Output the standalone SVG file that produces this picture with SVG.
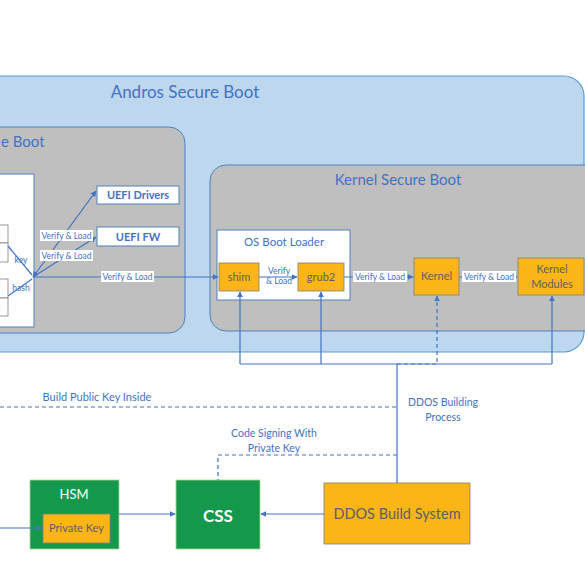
<svg xmlns="http://www.w3.org/2000/svg" width="585" height="585" viewBox="0 0 585 585">
<defs>
<marker id="ah" viewBox="0 0 10 10" refX="9" refY="5" markerWidth="6" markerHeight="6" orient="auto-start-reverse" markerUnits="userSpaceOnUse"><path d="M0,0 L10,5 L0,10 z" fill="#4472c4"/></marker>
<style>
text{font-family:Lato,"Open Sans","Liberation Sans",sans-serif}
.blue{fill:#4472c4}
.ln{stroke:#4472c4;stroke-width:1.2;fill:none}
.dash{stroke:#4472c4;stroke-width:1.2;fill:none;stroke-dasharray:4 3}
.org{fill:#fbb516;stroke:#7f7f7f;stroke-width:0.8}
.grn{fill:#14994c;stroke:#a9d18e;stroke-width:0.8}
.wbox{fill:#ffffff;stroke:#4f81bd;stroke-width:1}
.lbl{font-size:8.5px;fill:#4472c4}
.lblbg{fill:#ffffff}
.otxt{fill:#5f5f5f;font-size:11px}
</style>
</defs>
<rect width="585" height="585" fill="#ffffff"/>

<g id="androsSecureBoot">
<rect x="-30" y="76" width="614" height="276" rx="20" fill="#bdd7ee" stroke="#5b9bd5" stroke-width="1.2"/>
<text x="185" y="98" text-anchor="middle" font-size="17" class="blue">Andros Secure Boot</text>
</g>

<g id="uefiSecureBoot">
<rect x="-30" y="127" width="215" height="206" rx="16" fill="#bfbfbf" stroke="#4f81bd" stroke-width="1"/>
<text x="1" y="147" font-size="15" class="blue">e Boot</text>
<rect x="-20" y="174" width="54" height="153" class="wbox"/>
<rect x="-20" y="225" width="28" height="18" fill="#fff" stroke="#7f7f7f" stroke-width="0.8"/>
<rect x="-20" y="243" width="28" height="19" fill="#fff" stroke="#7f7f7f" stroke-width="0.8"/>
<rect x="-20" y="279" width="28" height="19" fill="#fff" stroke="#7f7f7f" stroke-width="0.8"/>
<rect x="-20" y="298" width="28" height="18" fill="#fff" stroke="#7f7f7f" stroke-width="0.8"/>
<text x="21" y="263" text-anchor="middle" class="lbl" font-size="7.5">key</text>
<text x="21" y="291" text-anchor="middle" class="lbl" font-size="7.5">hash</text>
</g>

<g id="uefiDrivers">
<rect x="97" y="186" width="82" height="18" class="wbox"/>
<text x="138" y="199" text-anchor="middle" font-size="11" font-weight="bold" class="blue">UEFI Drivers</text>
</g>
<g id="uefiFW">
<rect x="97" y="227" width="82" height="19" class="wbox"/>
<text x="138" y="240.5" text-anchor="middle" font-size="11" font-weight="bold" class="blue">UEFI FW</text>
</g>

<g id="kernelSecureBoot">
<rect x="210" y="165" width="400" height="166" rx="16" fill="#bfbfbf" stroke="#4f81bd" stroke-width="1"/>
<text x="398" y="185" text-anchor="middle" font-size="15" class="blue">Kernel Secure Boot</text>
</g>

<g id="osBootLoader">
<rect x="217" y="230" width="133" height="70" class="wbox"/>
<text x="284" y="246" text-anchor="middle" font-size="11.5" class="blue">OS Boot Loader</text>
</g>

<g id="shim">
<rect x="219" y="263" width="40" height="28" class="org"/>
<text x="239" y="281" text-anchor="middle" class="otxt">shim</text>
</g>
<g id="grub2">
<rect x="298" y="263" width="46" height="28" class="org"/>
<text x="321" y="281" text-anchor="middle" class="otxt">grub2</text>
</g>
<g id="kernel">
<rect x="414" y="258" width="45" height="37" class="org"/>
<text x="436.5" y="280" text-anchor="middle" class="otxt">Kernel</text>
</g>
<g id="kernelModules">
<rect x="518" y="258" width="66" height="37" class="org"/>
<text x="552" y="273" text-anchor="middle" class="otxt">Kernel</text>
<text x="552" y="288" text-anchor="middle" class="otxt">Modules</text>
</g>

<g id="hsm">
<rect x="30" y="480" width="89" height="69" class="grn"/>
<text x="74" y="499" text-anchor="middle" font-size="13" fill="#ffffff">HSM</text>
<rect x="43" y="514" width="67" height="29" class="org"/>
<text x="76.5" y="532" text-anchor="middle" class="otxt">Private Key</text>
</g>
<g id="css">
<rect x="176" y="480" width="84" height="69" class="grn"/>
<text x="218" y="522" text-anchor="middle" font-size="17" font-weight="bold" fill="#ffffff">CSS</text>
</g>
<g id="ddosBuildSystem">
<rect x="324" y="483" width="146" height="61" class="org"/>
<text x="397" y="519" text-anchor="middle" font-size="14.5" fill="#5f5f5f">DDOS Build System</text>
</g>

<g id="connectors">
<!-- UEFI internal -->
<path d="M8,246 L32,275" class="ln" stroke-width="0.8"/>
<path d="M8,296 L32,279" class="ln" stroke-width="0.8"/>
<line x1="33" y1="277" x2="96" y2="191" class="ln" marker-end="url(#ah)" marker-start="url(#ah)"/>
<line x1="33" y1="277" x2="96" y2="237" class="ln" marker-end="url(#ah)"/>
<line x1="33" y1="277" x2="218" y2="277" class="ln" marker-end="url(#ah)"/>
<rect x="40" y="230" width="53" height="11" class="lblbg"/>
<text x="66.5" y="239" text-anchor="middle" class="lbl">Verify &amp; Load</text>
<rect x="40" y="250" width="53" height="11" class="lblbg"/>
<text x="66.5" y="259" text-anchor="middle" class="lbl">Verify &amp; Load</text>
<rect x="101" y="271" width="53" height="11" class="lblbg"/>
<text x="127.5" y="280" text-anchor="middle" class="lbl">Verify &amp; Load</text>

<!-- kernel chain -->
<line x1="259" y1="277" x2="297" y2="277" class="ln" marker-end="url(#ah)"/>
<text x="279" y="274" text-anchor="middle" class="lbl" font-size="7.5">Verify</text>
<text x="279" y="284" text-anchor="middle" class="lbl" font-size="7.5">&amp; Load</text>
<line x1="344" y1="277" x2="413" y2="277" class="ln" marker-end="url(#ah)"/>
<rect x="353" y="271" width="54" height="11" class="lblbg"/>
<text x="380" y="280" text-anchor="middle" class="lbl">Verify &amp; Load</text>
<line x1="459" y1="277" x2="517" y2="277" class="ln" marker-end="url(#ah)"/>
<rect x="462" y="271" width="54" height="11" class="lblbg"/>
<text x="489" y="280" text-anchor="middle" class="lbl">Verify &amp; Load</text>

<!-- bracket up from build process -->
<path d="M240,364 L240,292" class="ln" marker-end="url(#ah)"/>
<path d="M321,364 L321,292" class="ln" marker-end="url(#ah)"/>
<path d="M552,364 L552,296" class="ln" marker-end="url(#ah)"/>
<path d="M240,364 L552,364" class="ln"/>
<path d="M397,364 L437,364 L437,296" class="dash" marker-end="url(#ah)"/>
<line x1="397" y1="364" x2="397" y2="483" class="ln"/>

<!-- build public key inside -->
<line x1="0" y1="407" x2="397" y2="407" class="dash"/>
<text x="97" y="401" text-anchor="middle" font-size="11" class="blue">Build Public Key Inside</text>

<text x="443" y="406" text-anchor="middle" font-size="10.5" class="blue">DDOS Building</text>
<text x="443" y="421" text-anchor="middle" font-size="10.5" class="blue">Process</text>

<!-- code signing -->
<path d="M397,455 L218,455 L218,480" class="dash"/>
<text x="274" y="437" text-anchor="middle" font-size="10.5" class="blue">Code Signing With</text>
<text x="274" y="452" text-anchor="middle" font-size="10.5" class="blue">Private Key</text>

<!-- bottom arrows -->
<line x1="0" y1="528" x2="42" y2="528" class="ln" marker-end="url(#ah)"/>
<line x1="119" y1="514" x2="175" y2="514" class="ln" marker-end="url(#ah)"/>
<line x1="324" y1="514" x2="261" y2="514" class="ln" marker-end="url(#ah)"/>
</g>
</svg>
